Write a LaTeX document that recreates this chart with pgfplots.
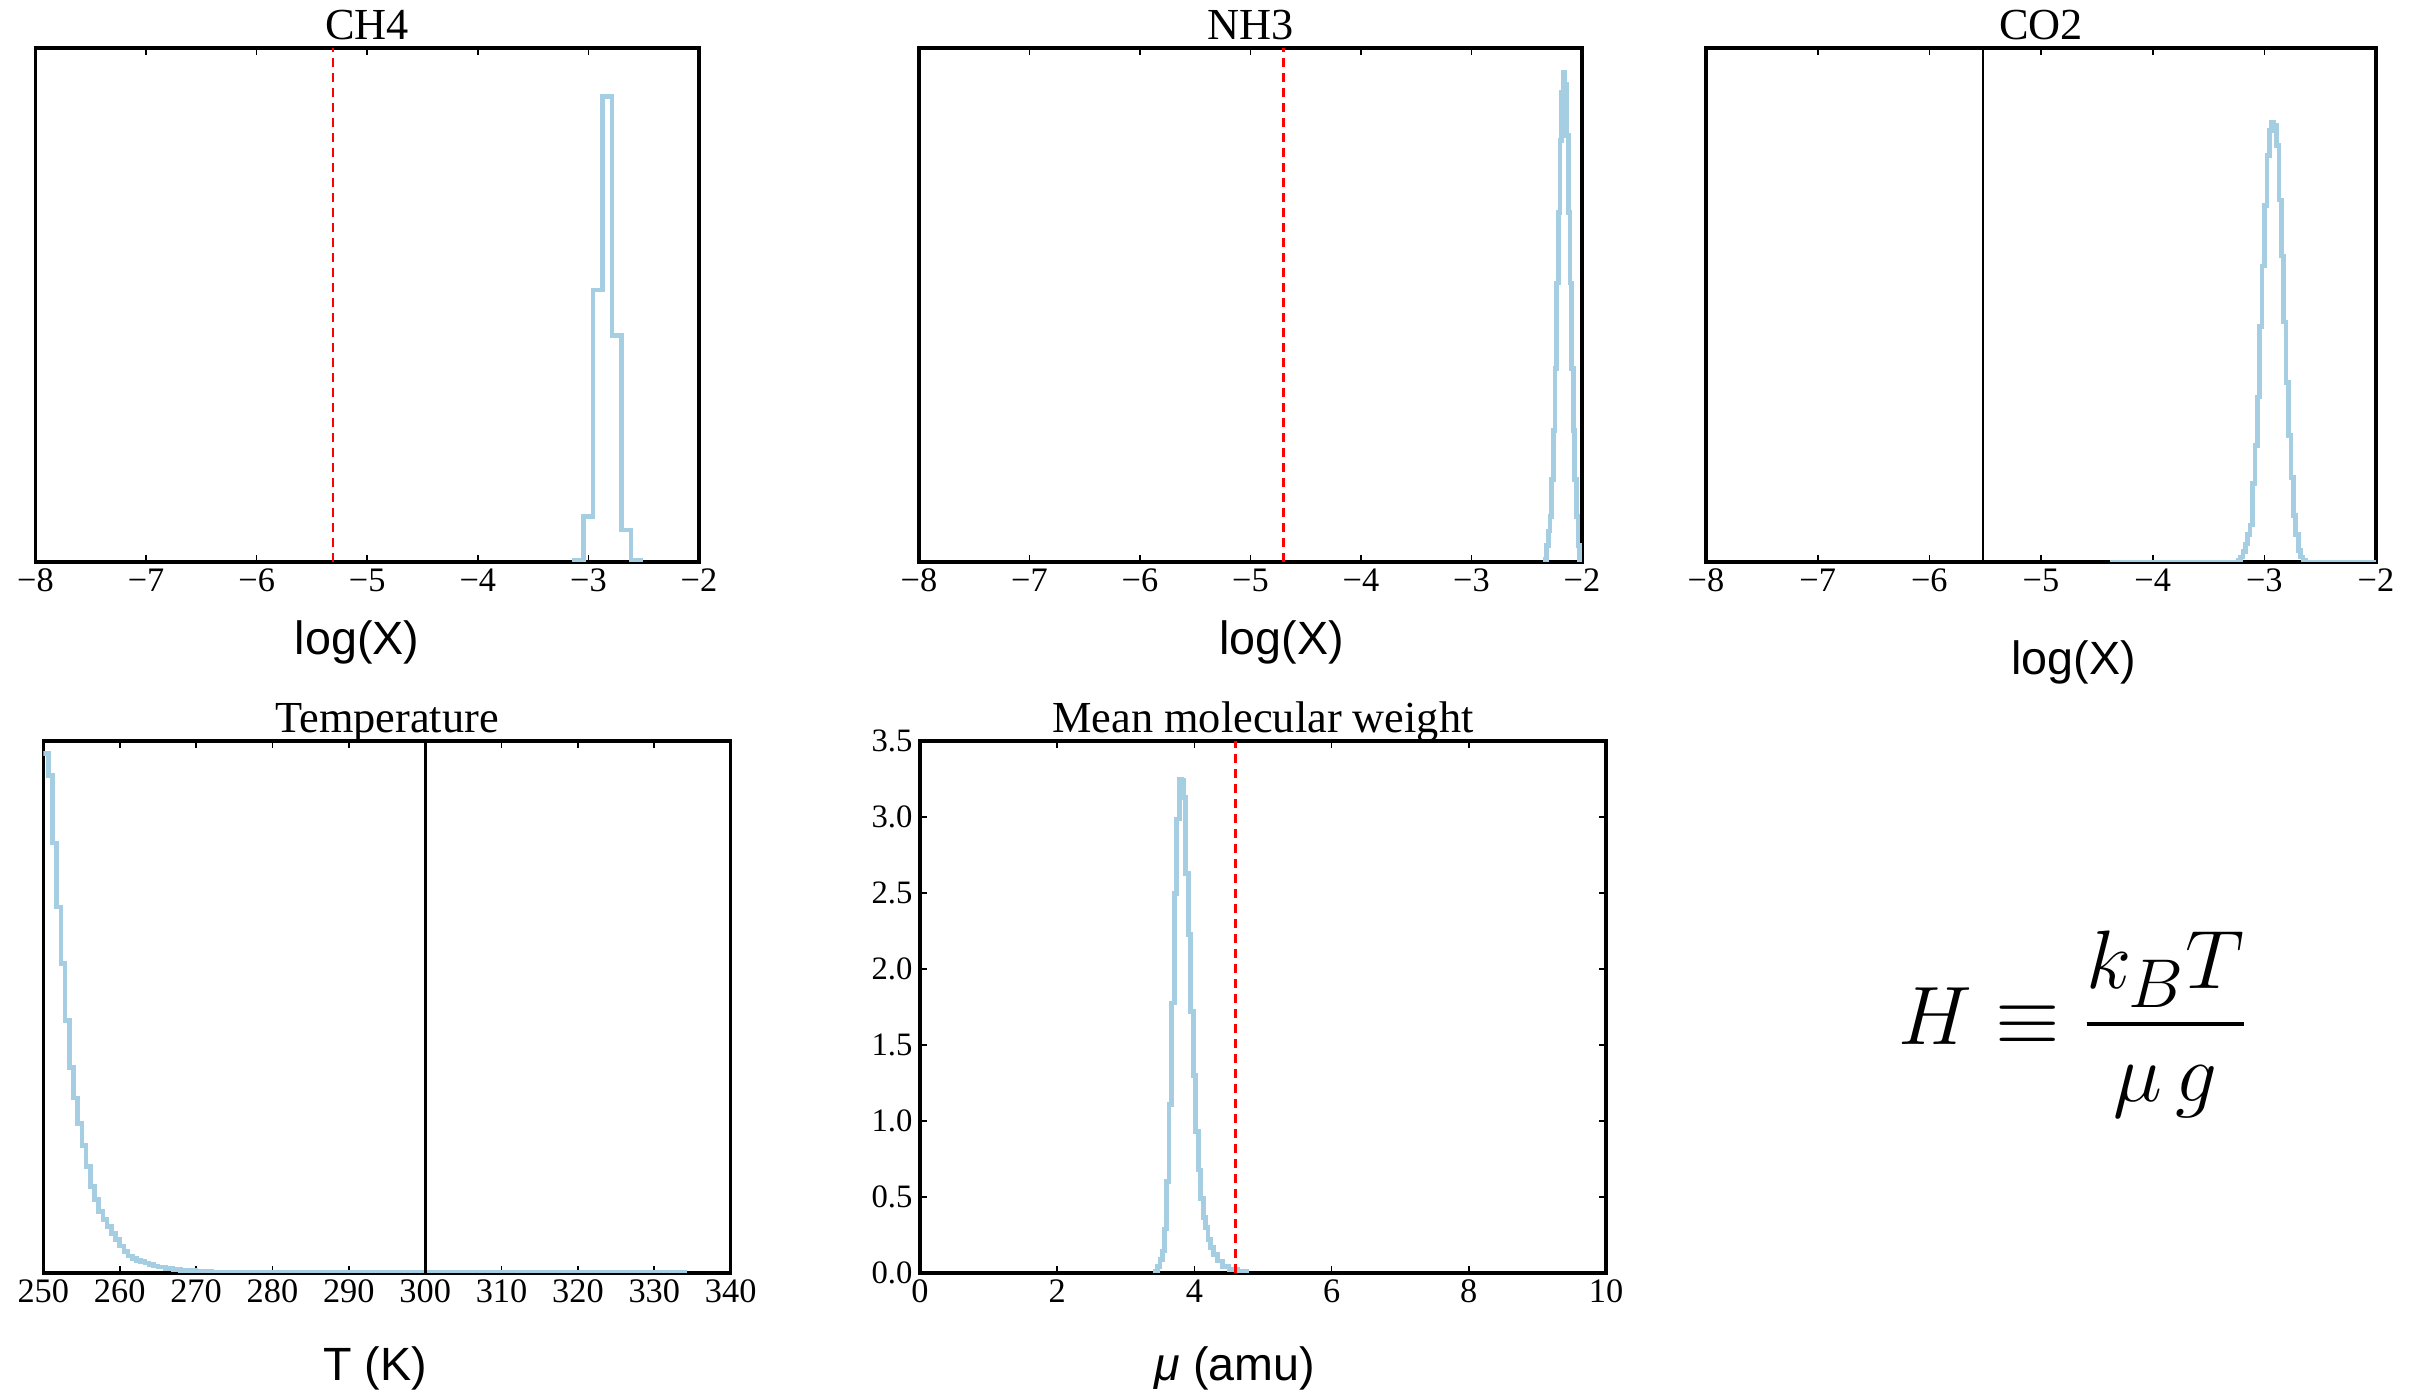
\documentclass[border=0pt]{standalone}
\usepackage{fontspec}
\setmainfont{Liberation Serif}
\setsansfont{Liberation Sans}
\usepackage{pgfplots}
\pgfplotsset{compat=1.18}
\definecolor{histblue}{RGB}{166,206,227}
\pgfplotsset{
  histax/.style={
    scale only axis, anchor=south west,
    axis line style={line width=0.95pt},
    tick style={black, line width=0.5pt},
    major tick length=2pt,
    tick align=inside,
    ymin=0,
    xticklabel style={font=\fontsize{10.3}{12}\selectfont, anchor=base, yshift=-9pt, inner sep=0pt},
    yticklabel style={font=\fontsize{9.8}{11}\selectfont, anchor=east, xshift=-2.1pt, inner sep=0pt},
    title style={font=\fontsize{13.3}{15}\selectfont, at={(0.5,1)}, anchor=base, yshift=-3.4pt, inner sep=0pt},
    xlabel style={font=\sffamily\fontsize{14}{16}\selectfont, anchor=center, inner sep=0pt},
    /pgf/number format/assume math mode=true,
  },
  hist/.style={histblue, line width=1.4pt, const plot, mark=none},
  logx/.style={xmin=-8, xmax=-2, ymax=1, ytick=\empty,
    xtick={-8,-7,-6,-5,-4,-3,-2},
    xticklabels={−8,−7,−6,−5,−4,−3,−2}},
  reddash/.style={red, line width=0.8pt, dash pattern=on 2.6pt off 1.9pt},
  blackline/.style={black, line width=0.85pt},
}
\begin{document}
\begin{tikzpicture}[x=1pt,y=1pt]
\useasboundingbox (0,0) rectangle (726.3,417.6);

% CH4
\begin{axis}[histax, logx, at={(10.65pt,249pt)}, width=199.05pt, height=154.2pt,
  title={CH4}, xlabel={log(X)},
  xlabel style={at={(axis description cs:0.4846,0)}, yshift=-24pt}]
\addplot[hist] coordinates {(-3.13,0) (-3.13,0.004) (-3.044,0.088) (-2.959,0.529) (-2.873,0.906) (-2.787,0.44) (-2.701,0.062) (-2.616,0.004) (-2.53,0)};
\addplot[reddash] coordinates {(-5.31,0) (-5.31,1)};
\end{axis}

% NH3
\begin{axis}[histax, logx, at={(275.7pt,249pt)}, width=198.9pt, height=154.2pt,
  title={NH3}, xlabel={log(X)},
  xlabel style={at={(axis description cs:0.547,0)}, yshift=-24pt}]
\addplot[hist] coordinates {(-2.335,0) (-2.335,0.005) (-2.320,0.032) (-2.305,0.06) (-2.29,0.089) (-2.275,0.16) (-2.26,0.256) (-2.245,0.377) (-2.23,0.543) (-2.215,0.68) (-2.2,0.82) (-2.185,0.913) (-2.17,0.952) (-2.155,0.93) (-2.14,0.83) (-2.125,0.68) (-2.11,0.543) (-2.095,0.377) (-2.08,0.256) (-2.065,0.16) (-2.05,0.089) (-2.035,0.032) (-2.02,0)};
\addplot[reddash] coordinates {(-4.70,0) (-4.70,1)};
\end{axis}

% CO2
\begin{axis}[histax, logx, at={(511.8pt,249pt)}, width=201pt, height=154.2pt,
  title={CO2}, xlabel={log(X)},
  xlabel style={at={(axis description cs:0.549,0)}, yshift=-30.1pt}]
\addplot[hist] coordinates {(-4.38,0) (-3.235,0.004) (-3.213,0.01) (-3.192,0.02) (-3.170,0.035) (-3.149,0.053) (-3.127,0.072) (-3.106,0.153) (-3.084,0.227) (-3.063,0.321) (-3.041,0.458) (-3.020,0.576) (-2.998,0.694) (-2.977,0.791) (-2.955,0.84) (-2.934,0.856) (-2.912,0.85) (-2.891,0.81) (-2.869,0.704) (-2.848,0.595) (-2.826,0.467) (-2.805,0.349) (-2.783,0.246) (-2.762,0.165) (-2.740,0.09) (-2.719,0.053) (-2.697,0.022) (-2.676,0.01) (-2.654,0.004) (-2.633,0) (-2.0,0)};
\addplot[blackline] coordinates {(-5.52,0) (-5.52,1)};
\end{axis}

% Temperature
\begin{axis}[histax, at={(13pt,35.7pt)}, width=206.2pt, height=159.6pt,
  xmin=250, xmax=340, ymax=1, ytick=\empty,
  xtick={250,260,270,280,290,300,310,320,330,340},
  xticklabels={250,260,270,280,290,300,310,320,330,340},
  title={Temperature}, xlabel={T (K)},
  xlabel style={at={(axis description cs:0.4826,0)}, yshift=-28.7pt}]
\addplot[hist] coordinates {(250,0.976) (250.7,0.935) (251.2,0.808) (251.75,0.688) (252.3,0.582) (252.85,0.474) (253.4,0.386) (253.95,0.329) (254.5,0.281) (255.05,0.24) (255.6,0.2) (256.15,0.162) (256.7,0.138) (257.25,0.115) (257.8,0.101) (258.35,0.088) (258.9,0.074) (259.45,0.063) (260.0,0.051) (260.55,0.04) (261.1,0.032) (261.65,0.027) (262.2,0.024) (262.75,0.022) (263.3,0.019) (263.85,0.016) (264.4,0.013) (265,0.011) (266,0.009) (267,0.007) (268,0.005) (270,0.003) (272,0.002) (275,0.001) (280,0.0005) (334,0)};
\addplot[blackline] coordinates {(300,0) (300,1)};
\end{axis}

% Mean molecular weight
\begin{axis}[histax, at={(276pt,35.7pt)}, width=205.8pt, height=159.6pt,
  xmin=0, xmax=10, ymax=3.5,
  xtick={0,2,4,6,8,10}, xticklabels={0,2,4,6,8,10},
  ytick={0,0.5,1,1.5,2,2.5,3,3.5},
  yticklabels={0.0,0.5,1.0,1.5,2.0,2.5,3.0,3.5},
  title={Mean molecular weight}, xlabel={{\itshape μ} (amu)},
  xlabel style={at={(axis description cs:0.459,0)}, yshift=-28.7pt}]
\addplot[hist] coordinates {(3.435,0) (3.435,0.011) (3.459,0.044) (3.498,0.089) (3.532,0.144) (3.561,0.289) (3.595,0.6) (3.629,1.11) (3.668,1.776) (3.707,2.498) (3.741,2.986) (3.779,3.246) (3.808,3.24) (3.838,3.13) (3.872,2.63) (3.91,2.225) (3.944,1.72) (3.983,1.3) (4.017,0.93) (4.056,0.677) (4.09,0.488) (4.129,0.366) (4.163,0.3) (4.197,0.222) (4.235,0.167) (4.274,0.122) (4.333,0.078) (4.405,0.044) (4.502,0.022) (4.624,0.011) (4.769,0)};
\addplot[reddash] coordinates {(4.6,0) (4.6,3.5)};
\end{axis}

\node[anchor=base, inner sep=0pt, font=\fontsize{27.5}{32}\selectfont] at (622,104.1) {$\displaystyle H \equiv {k_B T \above 1.3pt \mu\, g}$};
\end{tikzpicture}
\end{document}
